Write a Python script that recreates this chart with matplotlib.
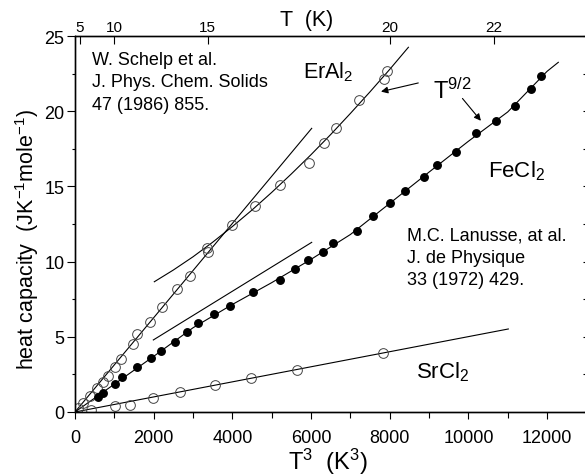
import matplotlib.pyplot as plt
from matplotlib.ticker import MultipleLocator, NullFormatter

plt.rcParams['font.family'] = ['Liberation Sans', 'DejaVu Sans']
plt.rcParams['mathtext.fontset'] = 'custom'
plt.rcParams['mathtext.rm'] = 'Liberation Sans'
plt.rcParams['mathtext.it'] = 'Liberation Sans:italic'

# ErAl2, open circles
eral2_x = [85, 212, 381, 551, 720, 847, 1017, 1161, 1466, 1568, 1907, 2203, 2585,
           2923, 3363, 3390, 3983, 4576, 5211, 5948, 6338, 6635, 7219, 7855, 7939]
eral2_y = [0.25, 0.6, 1.04, 1.57, 2.01, 2.41, 2.97, 3.52, 4.52, 5.19, 6.0, 6.96, 8.18,
           9.02, 10.88, 10.66, 12.43, 13.72, 15.12, 16.54, 17.89, 18.88, 20.77, 22.14, 22.69]
# T^3 line for ErAl2
eral2_lin_x = [0, 6017]
eral2_lin_y = [0, 18.86]
# T^9/2 curve for ErAl2
eral2_fit_x = [2016, 2500, 3000, 3500, 4000, 4500, 5000, 5500, 6000, 6500, 7000, 7500, 8000, 8475]
eral2_fit_y = [8.66, 9.44, 10.32, 11.29, 12.33, 13.43, 14.6, 15.83, 17.11, 18.45, 19.85, 21.29, 22.78, 24.25]

# FeCl2, filled circles
fecl2_x = [593, 720, 1017, 1187, 1584, 1924, 2178, 2542, 2855, 3135, 3533, 3940, 4517,
           5211, 5593, 5931, 6296, 6567, 7176, 7567, 8007, 8389, 8875, 9210, 9680,
           10200, 10710, 11185, 11584, 11838]
fecl2_y = [0.98, 1.26, 1.86, 2.3, 2.97, 3.57, 4.08, 4.67, 5.3, 5.92, 6.54, 7.07, 7.96,
           8.8, 9.51, 10.08, 10.66, 11.21, 12.06, 13.01, 13.87, 14.71, 15.62, 16.43, 17.31,
           18.55, 19.33, 20.37, 21.48, 22.36]
fecl2_fit_x = [0, 1000, 2000, 3000, 4000, 5000, 6000, 7000, 8000, 9000, 10000, 11000, 12000, 12286]
fecl2_fit_y = [0, 1.85, 3.7, 5.6, 7.15, 8.6, 10.15, 11.8, 13.87, 15.95, 18.0, 19.95, 22.65, 23.25]
fecl2_lin_x = [1991, 6017]
fecl2_lin_y = [4.79, 11.28]

# SrCl2, open circles
srcl2_x = [399, 1017, 1398, 1975, 2669, 3559, 4466, 5636, 7822]
srcl2_y = [0.15, 0.43, 0.48, 0.91, 1.31, 1.8, 2.24, 2.81, 3.9]
srcl2_fit_x = [0, 11015]
srcl2_fit_y = [0, 5.52]

top_T = [5, 10, 15, 20, 22]

fig = plt.figure(figsize=(5.85, 4.77), dpi=100)
ax = fig.add_axes([75 / 585, 64 / 477, 511.4 / 585, 376 / 477])

lw = 0.8
ax.plot(eral2_lin_x, eral2_lin_y, color='black', lw=lw)
ax.plot(eral2_fit_x, eral2_fit_y, color='black', lw=lw)
ax.plot(fecl2_fit_x, fecl2_fit_y, color='black', lw=lw)
ax.plot(fecl2_lin_x, fecl2_lin_y, color='black', lw=lw)
ax.plot(srcl2_fit_x, srcl2_fit_y, color='black', lw=lw)

ax.plot(eral2_x, eral2_y, 'o', ms=7, mfc='none', mec='#444444', mew=0.7)
ax.plot(srcl2_x, srcl2_y, 'o', ms=7, mfc='none', mec='#444444', mew=0.7)
ax.plot(fecl2_x, fecl2_y, 'o', ms=5.4, color='black')

ax.set_xlim(0, 13000)
ax.set_ylim(0, 25)
ax.xaxis.set_major_locator(MultipleLocator(2000))
ax.xaxis.set_minor_locator(MultipleLocator(1000))
ax.yaxis.set_major_locator(MultipleLocator(5))
ax.yaxis.set_minor_locator(MultipleLocator(2.5))
ax.tick_params(axis='x', which='major', direction='out', length=5, width=0.8,
               labelsize=13, pad=7)
ax.tick_params(axis='x', which='minor', direction='out', length=4, width=0.8)
ax.tick_params(axis='y', which='major', direction='out', length=5.5, width=0.8,
               labelsize=13, pad=2)
ax.tick_params(axis='y', which='minor', direction='out', length=2.5, width=0.8)
ax.spines['right'].set_visible(False)

ax.set_xlabel(r'T$^3$  (K$^3$)', fontsize=17)
ax.xaxis.set_label_coords(0.494, -0.09)
ax.set_ylabel(r'heat capacity  (JK$^{-1}$mole$^{-1}$)', fontsize=15.5)
ax.yaxis.set_label_coords(-0.066, 0.461)

# right axis ticks
axr = ax.twinx()
axr.set_ylim(0, 25)
axr.yaxis.set_major_locator(MultipleLocator(2.5))
axr.yaxis.set_major_formatter(NullFormatter())
axr.tick_params(axis='y', direction='in', length=2.5, width=0.8)
axr.spines['right'].set_visible(False)

# top axis in T
axt = ax.twiny()
axt.set_xlim(0, 13000)
axt.set_xticks([t ** 3 for t in top_T])
axt.set_xticklabels([str(t) for t in top_T])
axt.tick_params(axis='x', direction='in', length=5.5, width=0.8, labelsize=11, pad=1.5)
axt.spines['right'].set_visible(False)
ax.text(0.401, 1.029, 'T  (K)', transform=ax.transAxes, fontsize=15.5, va='baseline', ha='left')

for a in (ax, axr, axt):
    for s in a.spines.values():
        s.set_linewidth(0.9)

txt = 13
# multi-line texts: the baseline given is that of the last line
ax.text(424, 20.15, 'W. Schelp et al.\nJ. Phys. Chem. Solids\n47 (1986) 855.',
        fontsize=txt, va='baseline', ha='left', linespacing=1.42)
ax.text(8448, 8.51, 'M.C. Lanusse, at al.\nJ. de Physique\n33 (1972) 429.',
        fontsize=txt, va='baseline', ha='left', linespacing=1.42)
ax.text(5796, 22.25, r'ErAl$_2$', fontsize=15.5, va='baseline', ha='left')
ax.text(10498, 15.67, r'FeCl$_2$', fontsize=16, va='baseline', ha='left')
ax.text(8668, 2.31, r'SrCl$_2$', fontsize=16, va='baseline', ha='left')
ax.text(9100, 20.88, r'T$^{9/2}$', fontsize=17, va='baseline', ha='left')

arrow = dict(arrowstyle='-|>', color='black', lw=0.8, mutation_scale=10)
ax.annotate('', xy=(7710, 21.26), xytext=(8795, 21.92), arrowprops=arrow)
ax.annotate('', xy=(10364, 19.22), xytext=(9804, 20.99), arrowprops=arrow)

fig.savefig('out.png', dpi=100)
